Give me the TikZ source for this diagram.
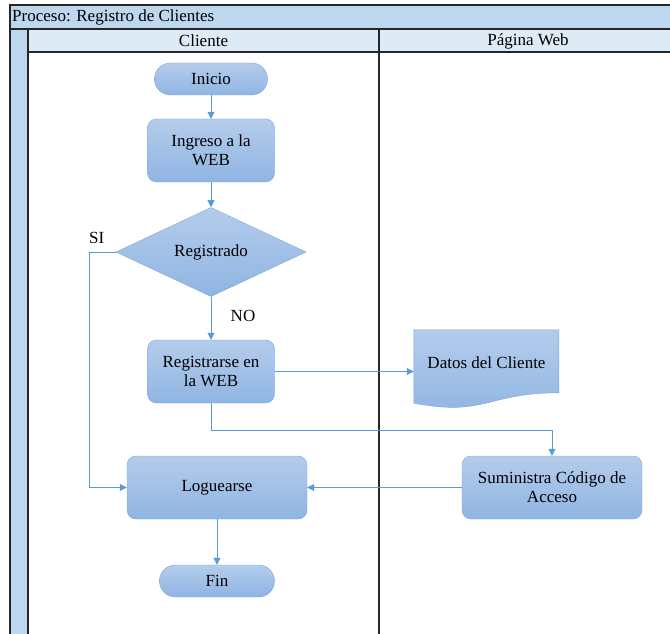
\documentclass[tikz,border=0pt]{standalone}
\usepackage{fontspec}
\setmainfont{Liberation Serif}
\usepackage{xcolor}
\usetikzlibrary{arrows.meta,shapes.geometric,backgrounds}

\definecolor{bandblue}{RGB}{189,215,238}
\definecolor{laneblue}{RGB}{221,235,247}
\definecolor{flowtop}{RGB}{180,204,236}
\definecolor{flowbot}{RGB}{143,181,226}
\definecolor{flowedge}{RGB}{122,166,219}
\definecolor{linkblue}{RGB}{91,155,213}
\definecolor{laneline}{RGB}{38,38,38}

\begin{document}
\begin{tikzpicture}[x=1pt, y=-1pt,
    font=\rmfamily\fontsize{17}{19}\selectfont,
    shaded/.style={draw=flowedge, top color=flowtop, bottom color=flowbot},
    proc/.style={shaded, rounded corners=9pt, minimum width=127pt,
                 minimum height=63pt, align=center, inner sep=2pt},
    term/.style={shaded, rounded corners=15.9pt, minimum width=113pt,
                 minimum height=32pt, inner sep=2pt},
    decision/.style={shaded, diamond, minimum width=190pt,
                     minimum height=88pt, inner sep=0pt},
    arrow/.style={-{Triangle[length=7pt,width=7pt]}, linkblue, line width=0.8pt},
    branch/.style={text=black},
    lane/.style={laneline, line width=1.2pt},
  ]
  \useasboundingbox (0,0) rectangle (670,634);
  \clip (0,0) rectangle (670,634);

  \fill[bandblue] (10,5) rectangle (680,29);
  \fill[laneblue] (28,29) rectangle (680,52);
  \fill[bandblue] (10,29) rectangle (28,650);
  \draw[lane] (10,650) -- (10,5) -- (680,5);
  \draw[lane] (10,29) -- (680,29);
  \draw[lane] (28,29) -- (28,650);
  \draw[lane] (379,29) -- (379,650);
  \draw[laneline, line width=2pt] (28,52) -- (680,52);

  \node[anchor=west, inner sep=0pt] (proceso) at (12,17) {Proceso: Registro de Clientes};
  \node (cliente) at (203.5,41) {Cliente};
  \node (pagina)  at (528,41)   {Página Web};

  \node[term]                  (inicio)      at (211,79)    {Inicio};
  \node[proc]                  (ingreso)     at (211,150.5) {Ingreso a la\\WEB};
  \node[decision]              (registrado)  at (211,252)   {Registrado};
  \node[proc]                  (registrarse) at (211,371.5) {Registrarse en\\la WEB};
  \node[minimum width=145pt, minimum height=66pt]
                               (datos)       at (486.5,363) {Datos del Cliente};
  \node[proc, minimum width=180pt] (loguearse)  at (217,487.5) {Loguearse};
  \node[proc, minimum width=180pt] (suministra) at (552,487.5) {Suministra Código de\\Acceso};
  \node[term, minimum width=115pt] (fin)        at (217,581)   {Fin};

  \begin{pgfonlayer}{background}
    \shade[shaded, shift={(datos.north west)}]
      (0,0) -- (145,0) -- (145,63) .. controls (72.5,63) and (72.5,87) .. (0,73.4) -- cycle;
  \end{pgfonlayer}

  \draw[arrow] (inicio) -- (ingreso);
  \draw[arrow] (ingreso) -- (registrado);
  \draw[arrow] (registrado) -- (registrarse)
    node[branch, pos=0.45, anchor=west, xshift=16pt] {NO};
  \draw[arrow] (registrado.west) -- ++(-26,0)
    node[branch, anchor=south, xshift=7pt, yshift=5pt] {SI} |- (loguearse.west);
  \draw[arrow] (registrarse) -- (registrarse -| datos.west);
  \draw[arrow] (registrarse.south) -- ++(0,27) -| (suministra.north);
  \draw[arrow] (suministra) -- (loguearse);
  \draw[arrow] (loguearse) -- (fin);
\end{tikzpicture}
\end{document}
